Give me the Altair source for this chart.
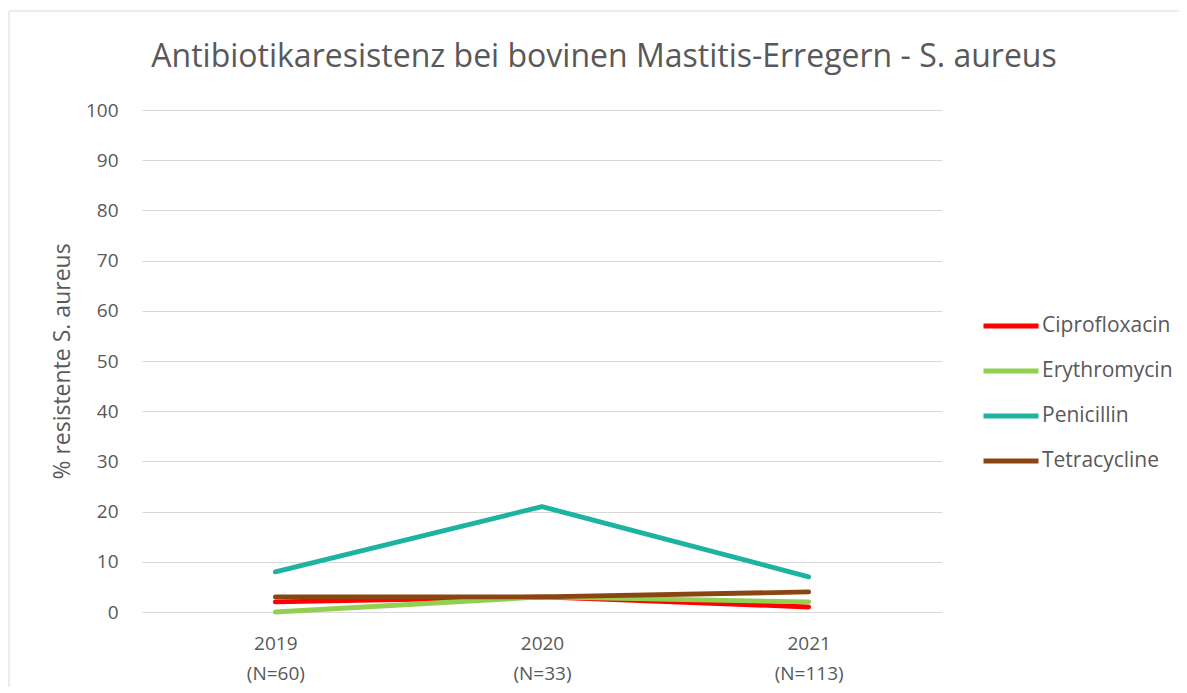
import altair as alt
import pandas as pd

years = ["2019|(N=60)", "2020|(N=33)", "2021|(N=113)"]
ciprofloxacin = [2, 3, 1]
erythromycin = [0, 3, 2]
penicillin = [8, 21, 7]
tetracycline = [3, 3, 4]

series = ["Ciprofloxacin", "Erythromycin", "Penicillin", "Tetracycline"]
colors = ["#FF0000", "#92D050", "#1CB4A0", "#8B4513"]
title_text = "Antibiotikaresistenz bei bovinen Mastitis-Erregern - S. aureus"

rows = []
for name, vals in zip(series, [ciprofloxacin, erythromycin, penicillin, tetracycline]):
    for y, v in zip(years, vals):
        rows.append({"Jahr": y, "Wert": v, "Antibiotikum": name, "ord": series.index(name)})
df = pd.DataFrame(rows)

FONT = "Open Sans"
GRAY = "#595959"

lines = alt.Chart(df).mark_line(strokeWidth=4.8, strokeCap="round", strokeJoin="round").encode(
    x=alt.X("Jahr:N", sort=years, scale=alt.Scale(type="point", padding=0.5),
            axis=alt.Axis(title=None, labelExpr="split(datum.label, '|')", labelLineHeight=30,
                          labelPadding=22, ticks=False, domain=False, labelFontSize=19,
                          labelColor=GRAY, labelFont=FONT, labelAngle=0)),
    y=alt.Y("Wert:Q", scale=alt.Scale(domain=[0, 100], nice=False),
            axis=alt.Axis(title="% resistente S. aureus", values=list(range(0, 101, 10)),
                          ticks=False, domain=False, labelPadding=24, labelFontSize=19,
                          labelColor=GRAY, labelFont=FONT, titleFont=FONT, titleFontSize=23,
                          titleFontWeight="normal", titleColor=GRAY, titlePadding=11,
                          gridColor="#D9D9D9", gridWidth=1)),
    color=alt.Color("Antibiotikum:N", sort=series,
                    scale=alt.Scale(domain=series, range=colors),
                    legend=alt.Legend(title=None, orient="none", legendX=839, legendY=186,
                                      symbolType="stroke", symbolSize=3025, symbolStrokeWidth=5,
                                      rowPadding=5, labelFontSize=21, labelFont=FONT,
                                      labelColor=GRAY, labelOffset=1)),
    order=alt.Order("ord:Q"),
    detail="Antibiotikum:N",
)

one = pd.DataFrame({"t": [title_text]})

frame = alt.Chart(one).mark_rect(fill=None, stroke="#D9D9D9", strokeWidth=1).encode(
    x=alt.value(-133), x2=alt.value(1044), y=alt.value(-99), y2=alt.value(600)
)

title = alt.Chart(one).mark_text(font=FONT, fontSize=32, color=GRAY, align="center",
                                  baseline="alphabetic").encode(
    text="t:N", x=alt.value(462), y=alt.value(-43)
)

chart = alt.layer(frame, title, lines).properties(
    width=800, height=502,
    autosize=alt.AutoSizeParams(type="none"),
    padding={"left": 134, "top": 102, "right": 237, "bottom": 75},
).configure_view(stroke=None)

chart.save("out.html", embed_options={"renderer": "svg", "actions": False})
